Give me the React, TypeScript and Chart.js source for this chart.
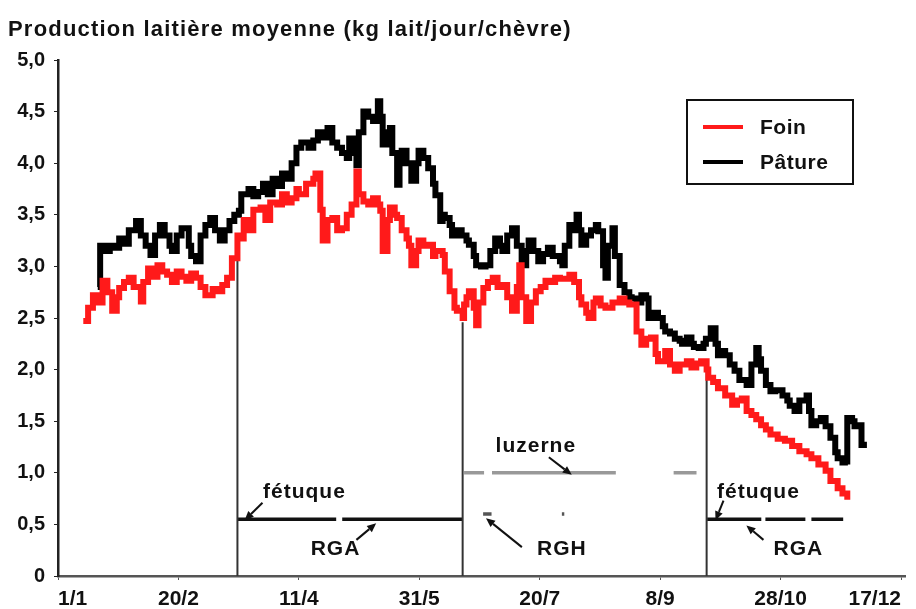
import React, { useEffect, useRef } from "react";
import { Chart, registerables } from "chart.js";
Chart.register(...registerables);

const FONT = '"Liberation Sans", Arial, Helvetica, sans-serif';

const TITLE = "Production laitière moyenne (kg lait/jour/chèvre)";
const TICK_DAYS = [0, 50, 100, 150, 200, 250, 300, 350];
const TICK_LABELS = ["1/1", "20/2", "11/4", "31/5", "20/7", "8/9", "28/10", "17/12"];
const Y_TICKS = [0, 0.5, 1, 1.5, 2, 2.5, 3, 3.5, 4, 4.5, 5];

const FOIN_DAYS = [10.5,12.5,14.5,16.5,18.5,20.5,22.5,24.4,25.4,27.4,29.4,31.4,34.4,35.4,37.4,39.4,41.3,43.3,45.3,47.3,49.3,51.3,53.3,55.3,57.3,59.2,61.2,64.2,66.2,68.2,70.2,72.2,74.5,75.1,77.1,79.1,81.1,84.1,86.1,88.1,91,93,95,97,99,100,103,106,106.9,108.9,109.9,111.9,113.9,115.9,117.9,119.9,121.9,123.9,124.9,126.8,128.8,130.8,132.8,133.8,134.8,136.8,137.8,139.8,140.8,142.7,144.7,145.7,146.7,148.7,149.7,151.7,153.7,155.7,156.7,159.7,160.6,162.6,164.6,165.6,168,168.6,169.6,170.6,172.6,173.6,174.6,176.6,178.5,180.5,182.5,184.5,186.5,188.5,190.5,191.5,192.5,194.4,196.4,198.4,200.4,202.4,204.4,206.4,208.4,212.3,214.3,216.3,217.3,219.3,220.3,222.3,223.3,225.3,227.3,230.2,233.2,235.2,237.2,240.2,242.2,244.2,246.2,248.1,249.1,252.1,254.1,256.1,258.1,261.1,263,265,267,269.3,270,272,274,277,279.9,281.9,283.9,285.9,287.9,289.9,291.9,293.9,295.8,298.8,301.8,304.8,307.8,310.8,312.8,315.7,318.7,320.7,323.7,325.7,327.7];
const FOIN_VALUES = [2.47,2.6,2.72,2.65,2.86,2.75,2.57,2.7,2.79,2.85,2.89,2.8,2.66,2.85,2.98,2.9,3.01,2.95,2.92,2.85,2.95,2.9,2.86,2.93,2.89,2.8,2.72,2.78,2.76,2.82,2.89,3.08,3.3,3.27,3.45,3.35,3.55,3.57,3.45,3.62,3.6,3.7,3.62,3.66,3.75,3.7,3.8,3.85,3.9,3.55,3.25,3.45,3.47,3.35,3.37,3.5,3.6,3.92,3.7,3.63,3.6,3.66,3.6,3.54,3.15,3.45,3.57,3.5,3.47,3.35,3.27,3.2,3.01,3.15,3.25,3.2,3.21,3.1,3.15,3.11,2.95,2.76,2.6,2.57,2.5,2.63,2.7,2.76,2.6,2.43,2.65,2.79,2.85,2.89,2.8,2.82,2.7,2.57,2.8,3.01,2.7,2.47,2.65,2.76,2.8,2.86,2.85,2.89,2.88,2.92,2.85,2.7,2.63,2.55,2.5,2.65,2.69,2.62,2.6,2.65,2.69,2.65,2.63,2.37,2.24,2.3,2.31,2.15,2.08,2.18,2.05,1.99,2.05,2.08,2.02,2.06,2.08,2.0,1.92,1.88,1.82,1.75,1.66,1.7,1.72,1.6,1.56,1.52,1.46,1.42,1.37,1.33,1.31,1.26,1.21,1.18,1.14,1.08,1.02,0.92,0.85,0.8,0.74];

const PATURE_DAYS = [16.5,17.5,19.5,21.5,23.4,25.4,27.4,29.4,32.4,34.4,36.4,38.4,40.3,42.3,44.3,46.3,47.3,49.3,51.3,54.3,55.3,57.3,59.2,61.2,63.2,65.2,67.2,69.2,71.2,73.2,75.1,76.1,79.1,81.1,83.1,85.1,87.1,89.1,91,93,95,97,99,101,104,106,107.9,109.9,111.9,113.9,115.9,117.9,119.9,120.9,122.9,123.9,124.9,126.8,128.8,130.8,132.8,133.8,134.8,136.8,137.8,138.8,140.8,141.8,142.7,144.7,146.7,148.7,149.7,151.7,153.7,155.7,156.7,158.7,159.7,160.6,162.6,163.6,165.6,167.6,169.6,170.6,172.6,173.6,175.6,177.5,179.5,181.5,183.5,184.5,186.5,188.5,190.5,192.5,194.4,195.4,197.4,199.4,201.4,203.4,205.4,208.4,209.4,210.4,212.3,213.3,215.3,216.3,217.3,219.3,221.3,223.3,224.3,226.3,227.3,228.3,230.2,231.2,233.2,235.2,237.2,238.2,240.2,242.2,244.2,245.2,247.1,249.1,251.1,252.1,254.1,256.1,258.1,259.1,261.1,263,264,266,268,269,271,273,274,276,277,278.9,280.9,282.9,285.9,287.9,289.9,290.9,291.9,293.9,295.8,297.8,300.8,302.8,303.8,305.8,307.8,310.8,311.8,312.8,314.8,316.7,318.7,320.7,322.7,323.7,325.7,326.7,327.7,329.7,330.7,332.7,333.6,334.6];
const PATURE_VALUES = [2.8,3.2,3.15,3.2,3.18,3.27,3.22,3.35,3.44,3.3,3.2,3.11,3.3,3.4,3.3,3.2,3.15,3.3,3.37,3.2,3.1,3.05,3.3,3.4,3.47,3.35,3.25,3.35,3.44,3.5,3.54,3.7,3.75,3.68,3.72,3.8,3.7,3.85,3.78,3.9,3.85,4.0,4.15,4.2,4.15,4.22,4.3,4.25,4.34,4.2,4.15,4.1,4.05,4.24,4.1,3.98,4.3,4.5,4.45,4.41,4.6,4.45,4.18,4.3,4.34,4.1,3.79,4.0,4.12,4.0,3.83,4.0,4.12,4.05,3.95,3.8,3.69,3.44,3.5,3.47,3.4,3.3,3.35,3.3,3.25,3.21,3.1,3.01,3.0,3.01,3.15,3.27,3.2,3.15,3.3,3.37,3.2,3.01,3.15,3.25,3.15,3.05,3.12,3.18,3.1,3.05,3.01,3.2,3.4,3.35,3.5,3.35,3.21,3.3,3.35,3.4,3.34,3.01,2.89,3.2,3.37,3.1,2.82,2.75,2.7,2.69,2.65,2.72,2.69,2.5,2.55,2.5,2.42,2.37,2.35,2.3,2.28,2.25,2.31,2.25,2.22,2.21,2.25,2.3,2.4,2.25,2.14,2.18,2.14,2.05,1.99,1.9,1.85,2.05,2.21,2.1,1.99,1.85,1.79,1.8,1.75,1.7,1.65,1.6,1.7,1.75,1.6,1.46,1.5,1.53,1.45,1.34,1.2,1.14,1.1,1.11,1.53,1.5,1.45,1.46,1.27,1.3];

// forage change dates (vertical lines) and the level they reach
const CHANGE_DAYS = [74.5, 168, 269.3];
const CHANGE_TOPS = [3.3, 2.46, 1.98];

// grazing periods of each forage, drawn at fixed levels
const FETUQUE_LEVEL = 0.55;
const FETUQUE_STARTS = [74.5, 118, 269.5, 293.7, 312.8];
const FETUQUE_ENDS = [115.5, 168, 292, 310.3, 326];
const LUZERNE_LEVEL = 1.0;
const LUZERNE_STARTS = [168.6, 180.2, 255.6];
const LUZERNE_ENDS = [176.9, 231.6, 265.1];
const RGH_LEVEL = 0.6;
const RGH_STARTS = [176.5, 209.2];
const RGH_ENDS = [180, 210.2];

const NOTE_TEXTS = ["fétuque", "RGA", "RGH", "luzerne", "fétuque", "RGA"];
const NOTE_DAYS = [102.3, 115.2, 209.2, 198.4, 290.8, 307.4];
const NOTE_VALUES = [0.81, 0.26, 0.26, 1.26, 0.81, 0.26];
const ARROW_FROM_DAYS = [84.9, 123.9, 192.6, 203.8, 276.3, 292.9];
const ARROW_FROM_VALUES = [0.71, 0.35, 0.28, 1.15, 0.73, 0.35];
const ARROW_TO_DAYS = [77.5, 132.1, 177.7, 213.3, 273, 285.8];
const ARROW_TO_VALUES = [0.54, 0.51, 0.56, 0.98, 0.54, 0.49];

const SERIES_NAMES = ["Foin", "Pâture"];
const SERIES_COLORS = ["#ff1a1a", "#000000"];

function pairs(days: number[], values: number[]) {
  return days.map((d, i) => ({ x: d, y: values[i] }));
}
function segments(starts: number[], ends: number[], level: number) {
  const out: any[] = [];
  starts.forEach((s, i) => {
    out.push({ x: s, y: level }, { x: ends[i], y: level }, { x: ends[i], y: null });
  });
  return out;
}
function verticals(days: number[], tops: number[]) {
  const out: any[] = [];
  days.forEach((d, i) => {
    out.push({ x: d, y: 0 }, { x: d, y: tops[i] }, { x: d, y: null });
  });
  return out;
}

const overlay = {
  id: "overlay",
  afterDraw(chart: any) {
    const { ctx, scales } = chart;
    const x = scales.x;
    const y = scales.y;
    ctx.save();
    // title
    ctx.fillStyle = "#111";
    ctx.font = `bold 22px ${FONT}`;
    ctx.letterSpacing = "1.2px";
    ctx.textAlign = "left";
    ctx.textBaseline = "middle";
    ctx.fillText(TITLE, 0, 22);

    // annotations
    ctx.font = `bold 21px ${FONT}`;
    ctx.letterSpacing = "1px";
    ctx.textAlign = "center";
    NOTE_TEXTS.forEach((t, i) => {
      ctx.fillText(t, x.getPixelForValue(NOTE_DAYS[i]), y.getPixelForValue(NOTE_VALUES[i]));
    });
    ctx.letterSpacing = "0px";
    ctx.strokeStyle = "#111";
    ctx.lineWidth = 2;
    ARROW_FROM_DAYS.forEach((_, i) => {
      const x1 = x.getPixelForValue(ARROW_FROM_DAYS[i]);
      const y1 = y.getPixelForValue(ARROW_FROM_VALUES[i]);
      const x2 = x.getPixelForValue(ARROW_TO_DAYS[i]);
      const y2 = y.getPixelForValue(ARROW_TO_VALUES[i]);
      const a = Math.atan2(y2 - y1, x2 - x1);
      const L = 9;
      const W = 4;
      const bx = x2 - L * Math.cos(a);
      const by = y2 - L * Math.sin(a);
      ctx.beginPath();
      ctx.moveTo(x1, y1);
      ctx.lineTo(bx, by);
      ctx.stroke();
      ctx.beginPath();
      ctx.moveTo(x2, y2);
      ctx.lineTo(bx + W * Math.sin(a), by - W * Math.cos(a));
      ctx.lineTo(bx - W * Math.sin(a), by + W * Math.cos(a));
      ctx.closePath();
      ctx.fill();
    });

    // legend box
    const bx = 679, by = 92, bw = 166, bh = 84;
    ctx.fillStyle = "#fff";
    ctx.fillRect(bx, by, bw, bh);
    ctx.strokeStyle = "#111";
    ctx.lineWidth = 2;
    ctx.strokeRect(bx, by, bw, bh);
    ctx.textAlign = "left";
    ctx.font = `bold 21px ${FONT}`;
    ctx.letterSpacing = "0.5px";
    SERIES_NAMES.forEach((name, i) => {
      const ly = by + 27 + i * 35;
      ctx.strokeStyle = SERIES_COLORS[i];
      ctx.lineWidth = 4;
      ctx.beginPath();
      ctx.moveTo(bx + 16, ly);
      ctx.lineTo(bx + 56, ly);
      ctx.stroke();
      ctx.fillStyle = "#111";
      ctx.fillText(name, bx + 73, ly + 1);
    });
    ctx.restore();
  },
};

export default function App() {
  const ref = useRef<HTMLCanvasElement | null>(null);
  useEffect(() => {
    if (!ref.current) return;
    Chart.defaults.font.family = FONT;
    const chart = new Chart(ref.current, {
      type: "line",
      data: {
        datasets: [
          {
            label: SERIES_NAMES[0],
            data: pairs(FOIN_DAYS, FOIN_VALUES),
            borderColor: SERIES_COLORS[0],
            borderWidth: 6,
            stepped: true,
            pointRadius: 0,
            fill: false,
          },
          {
            label: SERIES_NAMES[1],
            data: pairs(PATURE_DAYS, PATURE_VALUES),
            borderColor: SERIES_COLORS[1],
            borderWidth: 6,
            stepped: true,
            pointRadius: 0,
            fill: false,
          },
          {
            label: "changes",
            data: verticals(CHANGE_DAYS, CHANGE_TOPS),
            borderColor: "#333",
            borderWidth: 2,
            pointRadius: 0,
            spanGaps: false,
          },
          {
            label: "fétuque/RGA",
            data: segments(FETUQUE_STARTS, FETUQUE_ENDS, FETUQUE_LEVEL),
            borderColor: "#111",
            borderWidth: 3.5,
            pointRadius: 0,
            spanGaps: false,
          },
          {
            label: "luzerne",
            data: segments(LUZERNE_STARTS, LUZERNE_ENDS, LUZERNE_LEVEL),
            borderColor: "#999",
            borderWidth: 3.5,
            pointRadius: 0,
            spanGaps: false,
          },
          {
            label: "RGH",
            data: segments(RGH_STARTS, RGH_ENDS, RGH_LEVEL),
            borderColor: "#555",
            borderWidth: 3.5,
            pointRadius: 0,
            spanGaps: false,
          },
        ],
      },
      options: {
        responsive: false,
        animation: false,
        layout: { padding: { top: 52, right: 0, left: 0, bottom: 0 } },
        plugins: {
          legend: { display: false },
          tooltip: { enabled: false },
          title: { display: false },
        },
        scales: {
          x: {
            type: "linear",
            min: 0,
            max: 352,
            afterBuildTicks: (scale: any) => {
              scale.ticks = TICK_DAYS.map((v) => ({ value: v }));
            },
            afterFit: (scale: any) => {
              scale.height = 33;
            },
            ticks: {
              align: "inner",
              maxRotation: 0,
              autoSkip: false,
              padding: 7,
              color: "#111",
              font: { size: 21, weight: "bold" },
              callback: (v: any) => {
                const i = TICK_DAYS.indexOf(Number(v));
                return i >= 0 ? TICK_LABELS[i] : "";
              },
            },
            grid: { display: true, drawOnChartArea: false, drawTicks: true, tickLength: 4, color: "#555" },
            border: { display: true, color: "#555", width: 2.5 },
          },
          y: {
            type: "linear",
            min: 0,
            max: 5,
            afterBuildTicks: (scale: any) => {
              scale.ticks = Y_TICKS.map((v) => ({ value: v }));
            },
            afterFit: (scale: any) => {
              scale.width = 50;
            },
            ticks: {
              padding: 9,
              color: "#111",
              font: { size: 20, weight: "bold" },
              callback: (v: any) => (Number(v) === 0 ? "0" : Number(v).toFixed(1).replace(".", ",")),
            },
            grid: { display: true, drawOnChartArea: false, drawTicks: true, tickLength: 4, color: "#222" },
            border: { display: true, color: "#222", width: 2.5 },
          },
        },
      },
      plugins: [overlay],
    } as any);
    return () => chart.destroy();
  }, []);
  return (
    <div style={{ width: 900, height: 601 }}>
      <canvas ref={ref} width={900} height={601} style={{ display: "block" }} />
    </div>
  );
}
